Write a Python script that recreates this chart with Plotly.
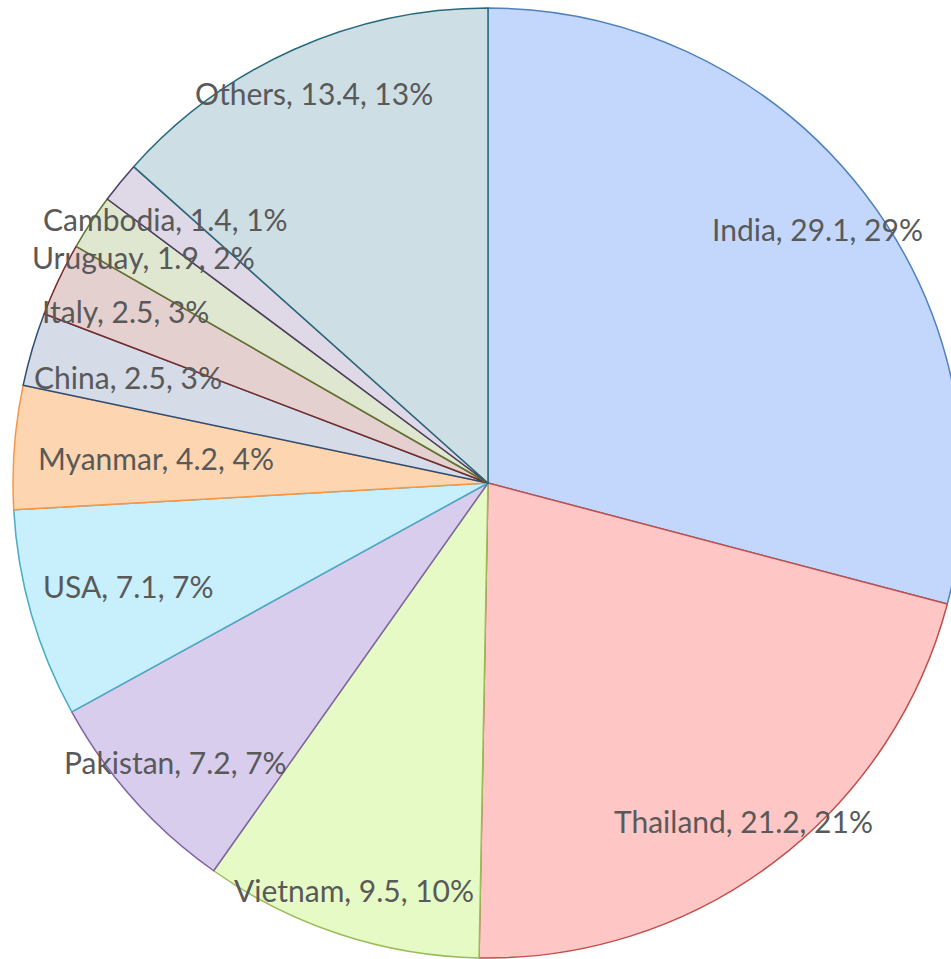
import math
import plotly.graph_objects as go

# ---- data ----
labels = ["India", "Thailand", "Vietnam", "Pakistan", "USA", "Myanmar",
          "China", "Italy", "Uruguay", "Cambodia", "Others"]
values = [29.1, 21.2, 9.5, 7.2, 7.1, 4.2, 2.5, 2.5, 1.9, 1.4, 13.4]

fill_colors = ["#C3D7FC", "#FFC6C6", "#E6FAC6", "#D8CDEC", "#C8F0FC", "#FDD5B0",
               "#D5DBE7", "#E5D0D0", "#DFE7D0", "#DED8E7", "#CDDEE5"]
line_colors = ["#4F81BD", "#C0504D", "#9BBB59", "#8064A2", "#4BACC6", "#F79646",
               "#2C4D75", "#772C2A", "#5F7530", "#4D3B62", "#276A7C"]

# ---- layout geometry ----
W, H = 963, 959
ML, MT = 13, 8
P = 950            # square plot area (px)
R = P / 2          # pie radius (px)
FONT_SIZE = 30

CHAR_W = {",": 0.23, ".": 0.23, " ": 0.19, "%": 0.78, "I": 0.27, "i": 0.24,
          "l": 0.24, "t": 0.34, "r": 0.36, "m": 0.83, "y": 0.48, "a": 0.49}


def text_width(s):
    tot = 0.0
    for ch in s:
        if ch in CHAR_W:
            tot += CHAR_W[ch]
        elif ch.isdigit():
            tot += 0.58
        elif ch.isupper():
            tot += 0.64
        else:
            tot += 0.52
    return tot * FONT_SIZE * 1.05


total = sum(values)
annotations = []
cum = 0.0
for lab, val in zip(labels, values):
    pct = val / total * 100
    txt = f"{lab}, {val}, {math.floor(pct + 0.5 + 1e-9)}%"
    mid = (cum + val / 2) / total
    cum += val
    th = 2 * math.pi * mid
    ux, uy = math.sin(th), math.cos(th)
    w, h = text_width(txt), 42
    ex = (w / 2) / abs(ux) if abs(ux) > 1e-9 else float("inf")
    ey = (h / 2) / abs(uy) if abs(uy) > 1e-9 else float("inf")
    r = R - 25 - min(ex, ey)
    annotations.append(dict(
        x=0.5 + r * ux / P, y=0.5 + r * uy / P, xref="paper", yref="paper",
        text=txt, showarrow=False, xanchor="center", yanchor="middle",
        font=dict(family="Lato", size=FONT_SIZE, color="#595959"),
    ))

fig = go.Figure(go.Pie(
    labels=labels, values=values, sort=False, direction="clockwise", rotation=0,
    marker=dict(colors=fill_colors, line=dict(color=line_colors, width=1.5)),
    textinfo="none", hoverinfo="skip", showlegend=False,
    domain=dict(x=[0, 1], y=[0, 1]),
))

fig.update_layout(
    width=W, height=H,
    margin=dict(l=ML, r=W - ML - P, t=MT, b=H - MT - P, pad=0),
    paper_bgcolor="white", plot_bgcolor="white",
    annotations=annotations,
)

fig.write_html(
    "out.html",
    config={"displayModeBar": False},
    post_script="document.body.style.margin='0';document.body.style.overflow='hidden';",
)
